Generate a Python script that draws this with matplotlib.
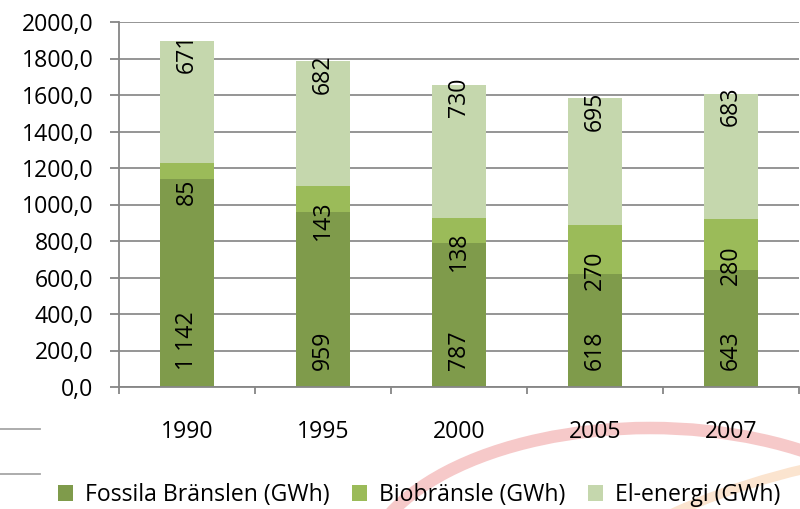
import matplotlib.pyplot as plt
import numpy as np
from matplotlib.patches import Arc
from matplotlib.lines import Line2D

years = ['1990', '1995', '2000', '2005', '2007']
fossil = [1142, 959, 787, 618, 643]
bio = [85, 143, 138, 270, 280]
el = [671, 682, 730, 695, 683]
fossil_labels = ['1 142', '959', '787', '618', '643']

c_fossil = '#7f9b4b'
c_bio = '#9bbb59'
c_el = '#c5d7ad'

plt.rcParams['font.family'] = ['Open Sans', 'DejaVu Sans']
plt.rcParams['font.size'] = 16.6

fig = plt.figure(figsize=(8, 5.09), dpi=100)
ax = fig.add_axes([119/800, 1 - 387/509, 680/800, 365/509])

x = np.arange(len(years))
fossil = np.array(fossil)
bio = np.array(bio)
el = np.array(el)

b1 = ax.bar(x, fossil, 0.4, color=c_fossil, label='Fossila Bränslen (GWh)', zorder=2)
b2 = ax.bar(x, bio, 0.4, bottom=fossil, color=c_bio, label='Biobränsle (GWh)', zorder=2)
b3 = ax.bar(x, el, 0.4, bottom=fossil + bio, color=c_el, label='El-energi (GWh)', zorder=2)

# data labels
for i in range(len(years)):
    ax.annotate(fossil_labels[i], xy=(x[i], 0), xytext=(0, 12), textcoords='offset points',
                rotation=90, ha='center', va='bottom', zorder=3)
    ax.annotate(str(bio[i]), xy=(x[i], fossil[i] + bio[i] / 2), xytext=(0, -15),
                textcoords='offset points', rotation=90, ha='center', va='center', zorder=3)
    ax.annotate(str(el[i]), xy=(x[i], fossil[i] + bio[i] + el[i]), xytext=(0, 5),
                textcoords='offset points', rotation=90, ha='center', va='top', zorder=3)

ax.set_ylim(0, 2000)
ax.set_xlim(-0.5, len(years) - 0.5)
ax.set_yticks(np.arange(0, 2001, 200))
ax.set_yticklabels([f'{v},0' for v in range(0, 2001, 200)])
ax.set_xticks(x)
ax.set_xticklabels(years)
ax.set_xticks(np.arange(-0.5, len(years)), minor=True)

ax.grid(axis='y', color='#8c8c8c', linewidth=1.3, zorder=0)
ax.set_axisbelow(True)
for s in ['top', 'right']:
    ax.spines[s].set_visible(False)
for s in ['left', 'bottom']:
    ax.spines[s].set_color('#868686')
    ax.spines[s].set_linewidth(1.3)

ax.tick_params(axis='y', length=6.5, width=1.3, color='#868686', pad=12)
ax.tick_params(axis='x', which='major', length=0, pad=24)
ax.tick_params(axis='x', which='minor', length=5, width=1.3, color='#868686')

# background decoration
fig.add_artist(Arc((650/800, -69/509), 575/800, 300/509, theta1=0, theta2=180,
                   transform=fig.transFigure, color='#f6c9c9', lw=9, zorder=-1))
fig.add_artist(Arc((980/800, -400/509), 1206/800, 920/509, theta1=0, theta2=180,
                   transform=fig.transFigure, color='#fbe4cf', lw=7, zorder=-1))
for yy in [80/509, 35/509]:
    fig.add_artist(Line2D([0, 40/800], [yy, yy], transform=fig.transFigure,
                          color='#a6a6a6', lw=1.3))

fig.legend(handles=[b1, b2, b3], loc='center', bbox_to_anchor=(0.524, 14/509),
           ncol=3, frameon=False, handlelength=0.65, handleheight=0.65,
           handletextpad=0.5, columnspacing=1.0, borderaxespad=0)

fig.savefig('out.png', dpi=100)
